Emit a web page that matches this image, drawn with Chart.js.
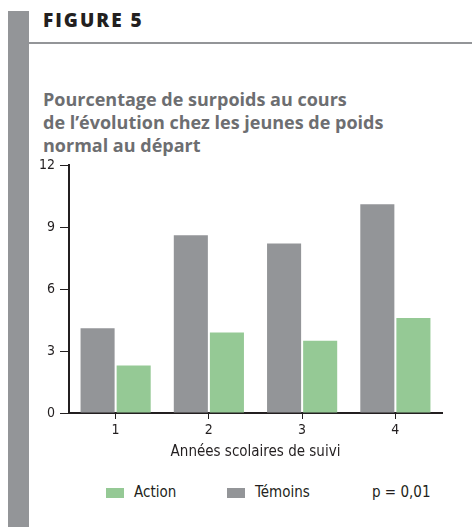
<!DOCTYPE html>
<html>
<head>
<meta charset="utf-8">
<script src="https://cdn.jsdelivr.net/npm/chart.js@4"></script>
<style>
  body { margin: 0; background: #fff; width: 472px; height: 527px; position: relative; overflow: hidden; }
  .stripe { position: absolute; left: 8px; top: 11px; width: 21px; height: 516px; background: #939598; }
  .rule { position: absolute; left: 29px; top: 42px; right: 0; height: 2px; background: #939598; }
  .fig { position: absolute; left: 43px; top: 7px; font: 800 19px "Open Sans", sans-serif; color: #231f20; letter-spacing: 2px; }
  .title { position: absolute; left: 43px; top: 88px; font: bold 18px/23px "Open Sans", sans-serif; color: #6d6e71; }
  .chart { position: absolute; left: 0; top: 150px; width: 472px; height: 320px; }
  .legend { position: absolute; top: 483px; left: 0; width: 472px; height: 20px; font: 15px "DejaVu Sans Condensed", sans-serif; font-stretch: condensed; color: #231f20; }
  .legend span { position: absolute; top: 0; }
  .legend i { position: absolute; top: 5px; width: 18px; height: 10px; }
</style>
</head>
<body>
<div class="stripe"></div>
<div class="rule"></div>
<div class="fig">FIGURE 5</div>
<div class="title">Pourcentage de surpoids au cours<br>de l’évolution chez les jeunes de poids<br>normal au départ</div>
<div class="chart"><canvas id="myChart"></canvas></div>
<div class="legend">
  <i style="left:106px;background:#95c995"></i><span style="left:134px">Action</span>
  <i style="left:227px;background:#939598"></i><span style="left:255px">Témoins</span>
  <span style="left:372px">p = 0,01</span>
</div>
<script>
const categories = ['1', '2', '3', '4'];
const temoins = [4.1, 8.6, 8.2, 10.1];
const action = [2.3, 3.9, 3.5, 4.6];
const yTicks = [0, 3, 6, 9, 12];

const dark = '#231f20';
const narrow = '"DejaVu Sans Condensed", sans-serif';
const tickFont = { family: narrow, size: 14 };

const ctx = document.getElementById('myChart').getContext('2d');

new Chart(ctx, {
  type: 'bar',
  data: {
    labels: categories,
    datasets: [{
      label: 'Témoins',
      data: temoins,
      backgroundColor: '#939598',
      categoryPercentage: 0.774,
      barPercentage: 0.944
    }, {
      label: 'Action',
      data: action,
      backgroundColor: '#95c995',
      categoryPercentage: 0.774,
      barPercentage: 0.944
    }]
  },
  options: {
    responsive: true,
    maintainAspectRatio: false,
    animation: false,
    layout: { padding: { left: 0, top: 15, right: 30, bottom: 0 } },
    scales: {
      y: {
        min: 0,
        max: 12,
        afterBuildTicks: (scale) => { scale.ticks = yTicks.map(v => ({ value: v })); },
        afterFit: (scale) => { scale.width = 69; },
        ticks: { color: dark, font: tickFont, padding: 5 },
        border: { color: dark, width: 2 },
        grid: { drawOnChartArea: false, tickLength: 9, color: dark, tickColor: dark }
      },
      x: {
        afterFit: (scale) => { scale.height = 57; },
        ticks: { color: dark, font: tickFont, padding: 3 },
        border: { color: dark, width: 2 },
        grid: { drawOnChartArea: false, offset: false, tickLength: 6, color: dark, tickColor: dark },
        title: {
          display: true,
          text: 'Années scolaires de suivi',
          color: dark,
          font: { family: narrow, size: 15 },
          padding: { top: 0, bottom: 9 }
        }
      }
    },
    plugins: {
      legend: { display: false },
      tooltip: { enabled: false }
    }
  }
});
</script>
</body>
</html>
